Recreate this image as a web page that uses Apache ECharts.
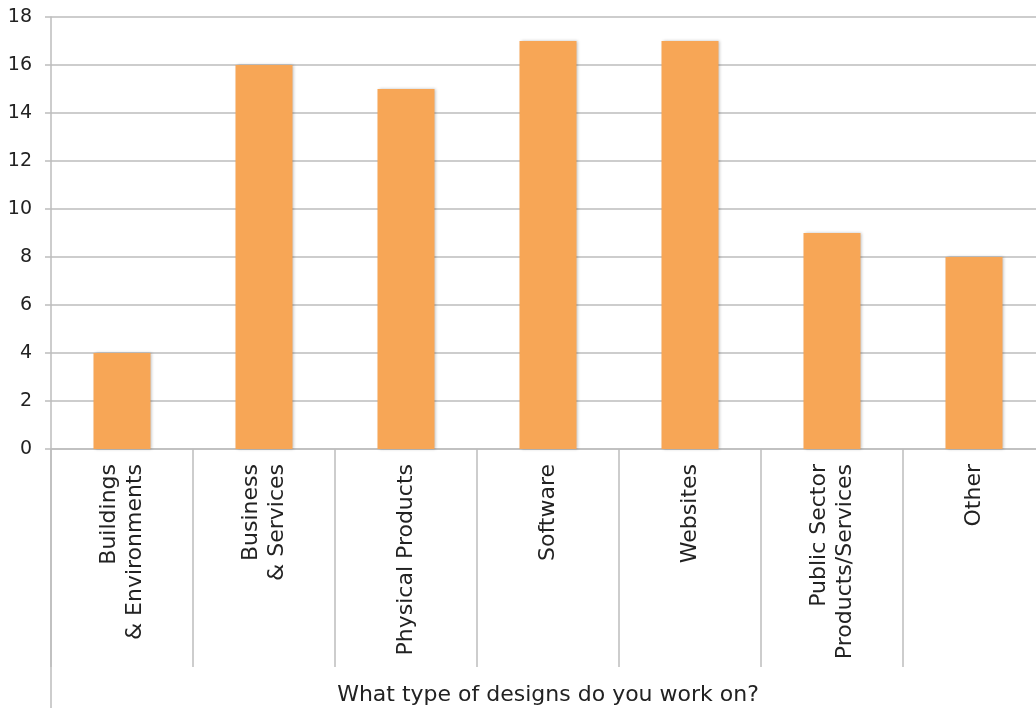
<!DOCTYPE html>
<html>
<head>
<meta charset="utf-8">
<script src="https://cdn.jsdelivr.net/npm/echarts@6/dist/echarts.min.js"></script>
<style>
  html, body { margin: 0; padding: 0; background: #fff; }
  #chart { width: 1036px; height: 709px; }
</style>
</head>
<body>
<div id="chart"></div>
<script>
// Survey answers: what type of designs respondents work on
const categories = [
  'Buildings\n& Environments',
  'Business\n& Services',
  'Physical Products',
  'Software',
  'Websites',
  'Public Sector\nProducts/Services',
  'Other'
];
const counts = [4, 16, 15, 17, 17, 9, 8];
const yTicks = { min: 0, max: 18, interval: 2 };
const axisTitle = 'What type of designs do you work on?';

const FONT = 'DejaVu Sans';
const GRID_COLOR = '#bdbdbd';
const BAR_COLOR = '#f7a656';

const chart = echarts.init(document.getElementById('chart'));
chart.setOption({
  animation: false,
  textStyle: { fontFamily: FONT },
  grid: {
    left: 51, right: -9, top: 17, bottom: 260,
    containLabel: false,
    outerBoundsMode: 'none'
  },
  xAxis: {
    type: 'category',
    data: categories,
    boundaryGap: true,
    name: axisTitle,
    nameLocation: 'middle',
    nameGap: 235,
    nameTextStyle: { fontFamily: FONT, fontSize: 22, color: '#222' },
    axisLine: { show: true, lineStyle: { color: GRID_COLOR, width: 1.5 } },
    axisTick: { show: true, alignWithLabel: false, length: 218, lineStyle: { color: GRID_COLOR, width: 1.5 } },
    axisLabel: {
      rotate: 90,
      interval: 0,
      margin: 15,
      fontFamily: FONT,
      fontSize: 22,
      lineHeight: 26,
      color: '#222'
    },
    splitLine: { show: false }
  },
  yAxis: {
    type: 'value',
    min: yTicks.min,
    max: yTicks.max,
    interval: yTicks.interval,
    axisLine: { show: true, lineStyle: { color: GRID_COLOR, width: 1.5 } },
    axisTick: { show: true, length: 6, lineStyle: { color: GRID_COLOR, width: 1.5 } },
    axisLabel: { margin: 19, fontFamily: FONT, fontSize: 19, color: '#222' },
    splitLine: { show: true, lineStyle: { color: GRID_COLOR, width: 1.5 } }
  },
  series: [{
    type: 'bar',
    data: counts,
    barWidth: 57,
    itemStyle: {
      color: BAR_COLOR,
      shadowColor: 'rgba(0,0,0,0.25)',
      shadowBlur: 3,
      shadowOffsetX: 1
    }
  }]
});

// Extend the value axis line below the category area, down to the axis title
const origin = chart.convertToPixel({ gridIndex: 0 }, [0, 0]);
const leftX = 51;
chart.setOption({
  graphic: [{
    type: 'line',
    shape: { x1: leftX, y1: origin[1], x2: leftX, y2: 708 },
    style: { stroke: GRID_COLOR, lineWidth: 1.5 },
    silent: true
  }]
});
</script>
</body>
</html>
